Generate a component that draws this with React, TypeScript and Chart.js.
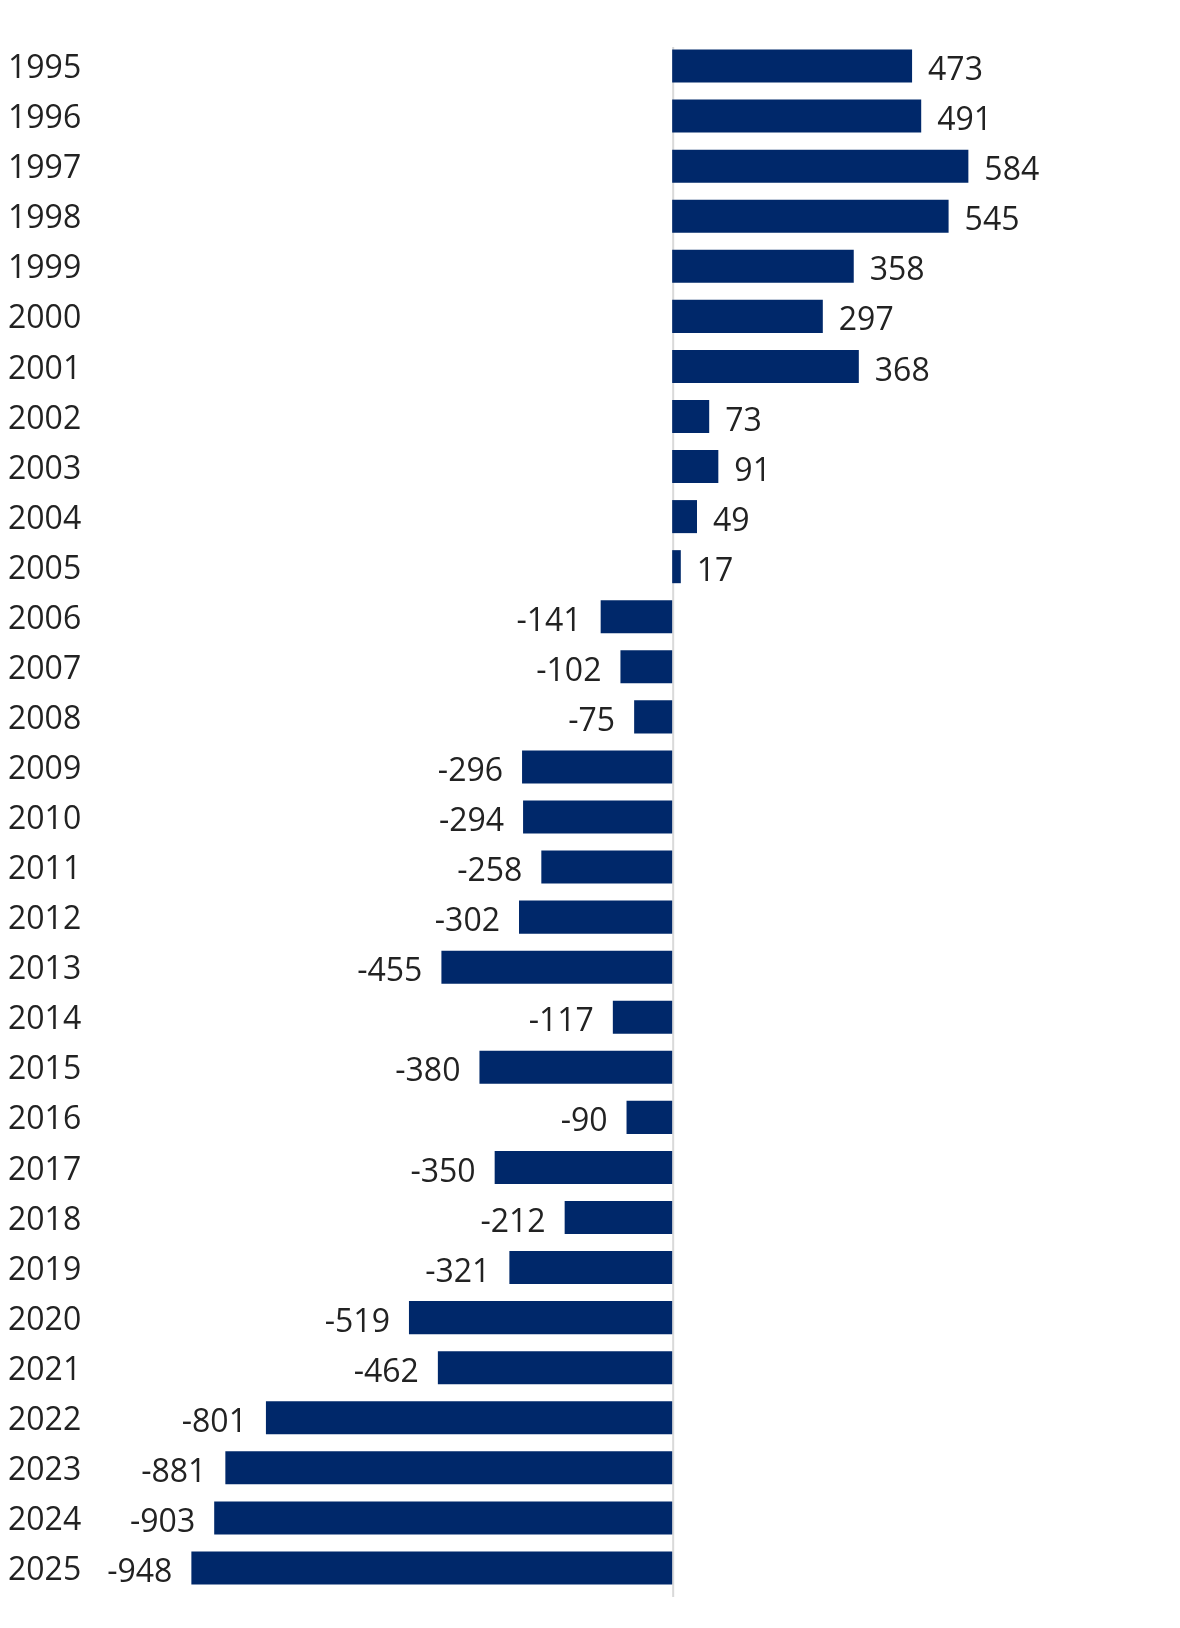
import { useEffect, useRef } from "react"
import { Chart, registerables } from "chart.js"

Chart.register(...registerables)

const years = [
  "1995", "1996", "1997", "1998", "1999", "2000", "2001", "2002", "2003", "2004",
  "2005", "2006", "2007", "2008", "2009", "2010", "2011", "2012", "2013", "2014",
  "2015", "2016", "2017", "2018", "2019", "2020", "2021", "2022", "2023", "2024", "2025",
]

const balance = [
  473, 491, 584, 545, 358, 297, 368, 73, 91, 49,
  17, -141, -102, -75, -296, -294, -258, -302, -455, -117,
  -380, -90, -350, -212, -321, -519, -462, -801, -881, -903, -948,
]

const FONT = "'Open Sans', 'Noto Sans', sans-serif"
const TEXT = "#222222"
const NAVY = "#00286a"

// zero line, a bit longer than the bars at both ends
const zeroLine = {
  id: "zeroLine",
  beforeDatasetsDraw(chart: Chart) {
    const { ctx, chartArea, scales } = chart
    const x = scales.x.getPixelForValue(0)
    ctx.save()
    ctx.strokeStyle = "#d9d9d9"
    ctx.lineWidth = 2
    ctx.beginPath()
    ctx.moveTo(x + 1, chartArea.top + 6)
    ctx.lineTo(x + 1, chartArea.bottom + 4)
    ctx.stroke()
    ctx.restore()
  },
}

// value labels at the end of each bar
const barLabels = {
  id: "barLabels",
  afterDatasetsDraw(chart: Chart) {
    const { ctx } = chart
    const meta = chart.getDatasetMeta(0)
    ctx.save()
    ctx.font = `32px ${FONT}`
    ctx.fillStyle = TEXT
    ctx.textBaseline = "middle"
    meta.data.forEach((bar: any, i: number) => {
      const v = balance[i]
      if (v >= 0) {
        ctx.textAlign = "left"
        ctx.fillText(String(v), bar.x + 16, bar.y + 5)
      } else {
        ctx.textAlign = "right"
        ctx.fillText(String(v), bar.x - 19, bar.y + 5)
      }
    })
    ctx.restore()
  },
}

export default function App() {
  const canvasRef = useRef<HTMLCanvasElement>(null)
  const chartRef = useRef<Chart | null>(null)

  useEffect(() => {
    if (!canvasRef.current) return
    if (chartRef.current) chartRef.current.destroy()

    chartRef.current = new Chart(canvasRef.current, {
      type: "bar",
      data: {
        labels: years,
        datasets: [
          {
            data: balance,
            backgroundColor: NAVY,
            borderWidth: 0,
            barPercentage: 0.66,
            categoryPercentage: 1,
          },
        ],
      },
      plugins: [zeroLine, barLabels],
      options: {
        indexAxis: "y",
        animation: false,
        responsive: true,
        maintainAspectRatio: false,
        layout: { padding: { top: 33, bottom: 27, left: 0, right: 18 } },
        plugins: {
          legend: { display: false },
          tooltip: { enabled: false },
        },
        scales: {
          x: {
            display: false,
            min: -1000,
            max: 950,
          },
          y: {
            grid: { display: false },
            border: { display: false },
            afterFit: (scale: any) => {
              scale.width = 157
            },
            ticks: {
              padding: 4,
              crossAlign: "far",
              labelOffset: 3,
              color: TEXT,
              font: { family: FONT, size: 32 },
            },
          },
        },
      },
    })

    return () => {
      if (chartRef.current) {
        chartRef.current.destroy()
        chartRef.current = null
      }
    }
  }, [])

  return (
    <div style={{ width: 1164, height: 1612, position: "relative" }}>
      <canvas ref={canvasRef} />
    </div>
  )
}
